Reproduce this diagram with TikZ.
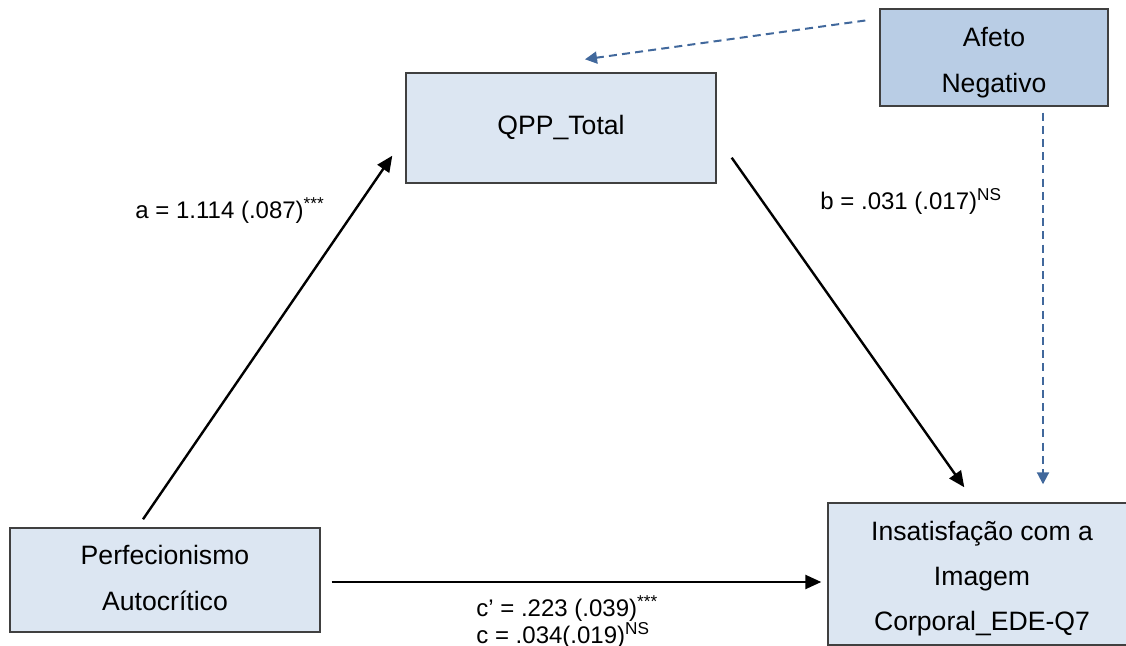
\documentclass[tikz,border=0pt]{standalone}
\usepackage{fontspec}
\setmainfont{Liberation Sans}
\usepackage{tikz}
\usetikzlibrary{arrows.meta, positioning}

\definecolor{boxfill}{HTML}{DCE6F2}
\definecolor{afetofill}{HTML}{B9CDE5}
\definecolor{dashblue}{HTML}{41689C}
\newcommand{\sups}[1]{\raisebox{4.5pt}{\fontsize{8.6}{8.6}\selectfont #1}}
% mehrzeiliger Text, letzte Grundlinie um #1 verschoben
\newcommand{\boxtext}[2]{\raisebox{#1}[0pt][0pt]{\begin{tabular}[b]{@{}c@{}}#2\end{tabular}}}

\begin{document}
\begin{tikzpicture}[x=0.5pt, y=-0.5pt,
		>={Triangle[length=8pt,width=7pt]},   %Pfeilspitzen
		var/.style={draw=black!75, line width=0.7pt, fill=boxfill, align=center, inner sep=0pt,
			font=\fontsize{13.3}{23}\selectfont},
		path/.style={->, line width=1.2pt},
		moder/.style={-{Triangle[length=6pt,width=6pt]}, dashblue, line width=1pt, dash pattern=on 4pt off 2.6pt},
		coef/.style={font=\fontsize{12}{13.5}\selectfont, align=left, inner sep=0pt}]
		% Rahmen
		\useasboundingbox (0,0) rectangle (1126,646);
		% Variablen
		\node[var, minimum width=155pt, minimum height=55pt] (qpp) at (561,128) {QPP\_Total};
		\node[var, fill=afetofill, minimum width=114pt, minimum height=48.5pt] (afeto) at (994,57.5) {\boxtext{-17.5pt}{Afeto\\Negativo}};
		\node[var, minimum width=155pt, minimum height=52pt] (perf) at (165,580) {\boxtext{-15.5pt}{Perfecionismo\\Autocrítico}};
		\node[var, minimum width=160pt, minimum height=71pt, font=\fontsize{13.3}{22.5}\selectfont] (insat) at (988,574) {\hspace*{-6pt}\boxtext{-28.5pt}{Insatisfação com a\\Imagem\\Corporal\_EDE-Q7}};
		% Pfade
		\draw[path] ([shift={(-22,-8)}]perf.north) -- ([shift={(-13,-28)}]qpp.south west);
		\draw[path] ([shift={(15,-26)}]qpp.south east) -- ([shift={(137,-15)}]insat.north west);
		\draw[path] ([shift={(11,2)}]perf.east) -- ([shift={(-6,8)}]insat.west);
		% Moderator
		\draw[moder] ([shift={(-14,-37)}]afeto.west) -- ([shift={(24,-13)}]qpp.north);
		\draw[moder] ([shift={(49,6)}]afeto.south) -- ([shift={(55,-18)}]insat.north);
		% Koeffizienten
		\node[coef, anchor=west] (a) at (135,211) {a = 1.114 (.087)\sups{***}};
		\node[coef, anchor=west] (b) at (820,201) {b = .031 (.017)\sups{NS}};
		\node[coef, anchor=west] (c) at (476,622) {c’ = .223 (.039)\sups{***}\\c = .034(.019)\sups{NS}};
	\end{tikzpicture}
\end{document}
